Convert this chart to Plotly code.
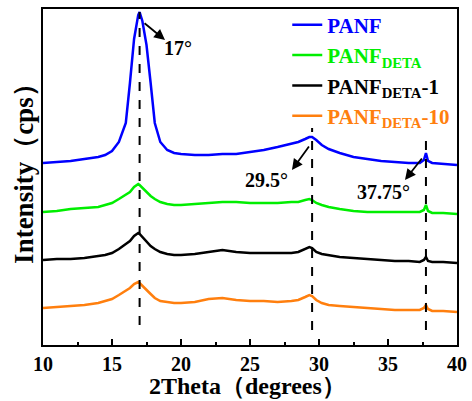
import plotly.graph_objects as go

two_theta = [10, 11, 12, 13, 14, 14.5, 15, 15.5, 16, 16.3, 16.6, 16.9, 17.0, 17.2, 17.5, 17.8, 18.1, 18.5,
             19, 19.5, 20, 21, 22, 23, 24, 25, 26, 27, 28, 28.5, 29, 29.3, 29.5, 29.8, 30.2, 30.7, 31.5,
             32.5, 33.5, 34.5, 35.5, 36.5, 37.3, 37.6, 37.75, 37.9, 38.2, 39, 40]

panf = [182, 183, 184, 186, 188, 190, 194, 203, 222, 262, 306, 330, 333, 324, 300, 262, 222, 203,
        195, 192, 191, 190, 190, 191, 191, 193, 195, 198, 201, 203, 206, 208, 208, 205, 200, 196, 192,
        188, 186, 184, 183, 182, 182, 185, 192, 184, 182, 181, 180]

panf_deta = [133, 134, 136, 137, 138, 140, 142, 146, 150, 153, 158, 161, 160, 157, 153, 149, 146, 143,
             141, 140, 140, 141, 142, 143, 143, 142, 142, 142, 143, 143, 145, 146, 145, 142, 140, 138, 136,
             134, 133, 133, 133, 133, 133, 135, 140, 134, 132, 132, 131]

panf_deta_1 = [85, 86, 86, 87, 89, 90, 92, 96, 101, 104, 109, 112, 111, 108, 103, 99, 96, 93,
               91, 90, 90, 91, 93, 95, 93, 92, 92, 92, 92, 93, 96, 98, 97, 93, 91, 90, 88,
               87, 86, 85, 84, 84, 83, 85, 88, 84, 83, 83, 82]

panf_deta_10 = [37, 38, 39, 40, 42, 44, 46, 50, 54, 57, 61, 63, 62, 59, 55, 51, 47, 44,
                43, 42, 42, 43, 46, 47, 45, 44, 44, 43, 44, 45, 48, 50, 49, 45, 42, 40, 39,
                38, 37, 36, 35, 35, 35, 37, 40, 36, 34, 34, 33]

series_names = ["<span style='color:#0000ff'>PANF</span>",
                "<span style='color:#00ee00'>PANF<sub>DETA</sub></span>",
                "<span style='color:#000000'>PANF<sub>DETA</sub>-1</span>",
                "<span style='color:#ff7f0e'>PANF<sub>DETA</sub>-10</span>"]
series_colors = ["#0000ff", "#00ee00", "#000000", "#ff7f0e"]
series_values = [panf, panf_deta, panf_deta_1, panf_deta_10]

peak_positions = [17, 29.5, 37.75]
peak_labels = ["17°", "29.5°", "37.75°"]
dash_top = [333, 217, 207]
dash_bottom = [20, 15, 15]
arrow_tail = [(17.25, 323), (29.35, 200), (37.54, 188)]
arrow_head = [(18.84, 305), (28.04, 175), (36.23, 165)]
label_pos = [(19.8, 297), (26.2, 165), (34.7, 153)]

x_title = "2Theta（degrees）"
y_title = "Intensity（cps）"

FONT = "Liberation Serif"

fig = go.Figure()
for name, color, vals in zip(series_names, series_colors, series_values):
    fig.add_trace(go.Scatter(x=two_theta, y=vals, mode="lines", name=name,
                             line=dict(color=color, width=2.5)))

for xp, yt, yb in zip(peak_positions, dash_top, dash_bottom):
    fig.add_shape(type="line", x0=xp, x1=xp, y0=yb, y1=yt, xref="x", yref="y",
                  line=dict(color="black", width=2, dash="dash"), layer="above")

for lab, (tx, ty), (hx, hy), (lx, ly) in zip(peak_labels, arrow_tail, arrow_head, label_pos):
    fig.add_annotation(x=hx, y=hy, ax=tx, ay=ty, axref="x", ayref="y", xref="x", yref="y",
                       text="", showarrow=True, arrowhead=2, arrowsize=1.2, arrowwidth=1.8,
                       arrowcolor="black")
    fig.add_annotation(x=lx, y=ly, xref="x", yref="y", text=lab, showarrow=False,
                       font=dict(family=FONT, size=20, color="black", weight="bold"))

# axis titles
fig.add_annotation(x=0.493, y=-0.122, xref="paper", yref="paper", text=x_title, showarrow=False,
                   xanchor="center", yanchor="middle",
                   font=dict(family=FONT, size=24, color="black", weight="bold"))
fig.add_annotation(x=-0.046, y=0.53, xref="paper", yref="paper", text=y_title, showarrow=False,
                   textangle=-90, xanchor="center", yanchor="middle",
                   font=dict(family=FONT, size=27, color="black", weight="bold"))

fig.update_layout(
    width=472, height=401,
    margin=dict(l=43, r=15, t=9, b=56, autoexpand=False),
    paper_bgcolor="white", plot_bgcolor="white",
    font=dict(family=FONT, size=16, color="black", weight="bold"),
    showlegend=True,
    legend=dict(x=0.59, y=1.013, xanchor="left", yanchor="top", bgcolor="rgba(0,0,0,0)",
                font=dict(family=FONT, size=21, weight="bold"), tracegroupgap=6,
                itemwidth=30),
    xaxis=dict(range=[10, 40], tickvals=[10, 15, 20, 25, 30, 35, 40], ticks="inside",
               ticklen=6, tickwidth=2, tickcolor="black", showline=True, linecolor="black",
               linewidth=2, mirror=True, showgrid=False, zeroline=False, automargin=False,
               tickfont=dict(family=FONT, size=20, weight="bold"),
               minor=dict(dtick=2.5, ticks="inside", ticklen=3, tickwidth=2, tickcolor="black")),
    yaxis=dict(range=[0, 336], showticklabels=False, ticks="", showline=True, linecolor="black",
               linewidth=2, mirror=True, showgrid=False, zeroline=False, automargin=False),
)

fig.write_html("out.html", config={"displayModeBar": False},
               post_script="document.body.style.margin='0';document.body.style.overflow='hidden';")
